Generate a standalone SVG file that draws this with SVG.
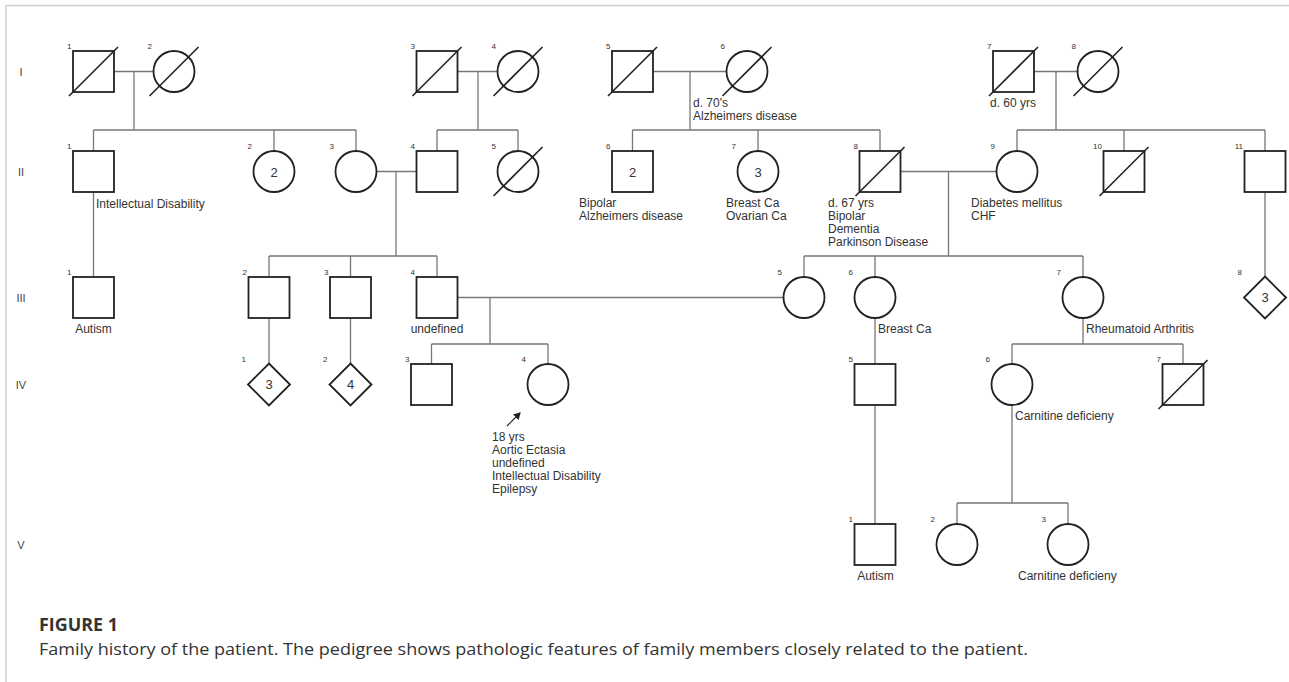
<svg xmlns="http://www.w3.org/2000/svg" width="1289" height="682" viewBox="0 0 1289 682">
<style>
.sym{fill:#fff;stroke:#222;stroke-width:1.8}
.dead{stroke:#222;stroke-width:1.6}
.con{stroke:#777;stroke-width:1.3;fill:none}
text{font-family:"Liberation Sans",Arial,sans-serif;fill:#333}
.lbl{font-size:12px}
.mid{text-anchor:middle}
.num{font-size:8px;text-anchor:end}
.inner{font-size:13px;text-anchor:middle}
.gen{font-size:11px;text-anchor:middle;fill:#444}
.cap{font-family:"Open Sans","Noto Sans",sans-serif}
</style>
<defs>
<marker id="ah" markerWidth="8" markerHeight="8" refX="6" refY="4" orient="auto" markerUnits="userSpaceOnUse">
<path d="M0,0 L7,4 L0,8 Z" fill="#222"/>
</marker>
</defs>
<rect width="1289" height="682" fill="#fff"/>
<path d="M6,682 V5.5 H1289" fill="none" stroke="#d0d0d0" stroke-width="1.5"/>

<g id="generations">
<text class="gen" x="21" y="76">I</text>
<text class="gen" x="21" y="176">II</text>
<text class="gen" x="21" y="302">III</text>
<text class="gen" x="21" y="389">IV</text>
<text class="gen" x="21" y="549">V</text>
</g>

<g id="connectors" class="con">
<path d="M114,71.5 H153.5 M458,71.5 H497.5 M653,71.5 H726.5 M1034,71.5 H1077.5"/>
<path d="M134,71.5 V130 M478,71.5 V130 M690,71.5 V130 M1056,71.5 V130"/>
<path d="M93.5,130 H356 M437,130 H518 M632.5,130 H880 M1017,130 H1265"/>
<path d="M93.5,130 V151 M274,130 V151 M356,130 V151 M437,130 V151 M518,130 V151 M632.5,130 V151 M758,130 V151 M880,130 V151 M1017,130 V151 M1124,130 V151 M1265,130 V151"/>
<path d="M376.5,171.5 H416.5 M900.5,171.5 H996.5"/>
<path d="M396,171.5 V256 M948.5,171.5 V256"/>
<path d="M93.5,192 V277 M1265,192 V276.5"/>
<path d="M269,256 H437 M804,256 H1083"/>
<path d="M269,256 V277 M350.5,256 V277 M437,256 V277 M804,256 V277 M875,256 V277 M1083,256 V277"/>
<path d="M457.5,297.5 H783.5 M490,297.5 V344 M431.5,344 H548 M431.5,344 V364 M548,344 V364"/>
<path d="M269,318 V363.5 M350.5,318 V363.5 M875,318 V364"/>
<path d="M1083,318 V344 M1012,344 H1183 M1012,344 V364 M1183,344 V364"/>
<path d="M875,405 V524 M1012,405 V503 M957,503 H1068 M957,503 V524 M1068,503 V524"/>
<line x1="507" y1="426" x2="520" y2="413" stroke="#222" stroke-width="1.2" marker-end="url(#ah)"/>
</g>

<!-- Generation I -->
<g id="I-1"><rect class="sym" x="73" y="51" width="41" height="41"/><line class="dead" x1="69" y1="96" x2="118" y2="47"/><text class="num" x="71.5" y="49">1</text></g>
<g id="I-2"><circle class="sym" cx="174" cy="71.5" r="20.5"/><line class="dead" x1="149.5" y1="96" x2="198.5" y2="47"/><text class="num" x="152" y="49">2</text></g>
<g id="I-3"><rect class="sym" x="416.5" y="51" width="41" height="41"/><line class="dead" x1="412.5" y1="96" x2="461.5" y2="47"/><text class="num" x="415" y="49">3</text></g>
<g id="I-4"><circle class="sym" cx="518" cy="71.5" r="20.5"/><line class="dead" x1="493.5" y1="96" x2="542.5" y2="47"/><text class="num" x="496" y="49">4</text></g>
<g id="I-5"><rect class="sym" x="612" y="51" width="41" height="41"/><line class="dead" x1="608" y1="96" x2="657" y2="47"/><text class="num" x="610.5" y="49">5</text></g>
<g id="I-6"><circle class="sym" cx="747" cy="71.5" r="20.5"/><line class="dead" x1="722.5" y1="96" x2="771.5" y2="47"/><text class="num" x="725" y="49">6</text>
<text class="lbl" x="693" y="107">d. 70's</text><text class="lbl" x="693" y="120">Alzheimers disease</text></g>
<g id="I-7"><rect class="sym" x="993" y="51" width="41" height="41"/><line class="dead" x1="989" y1="96" x2="1038" y2="47"/><text class="num" x="991.5" y="49">7</text>
<text class="lbl" x="990" y="107">d. 60 yrs</text></g>
<g id="I-8"><circle class="sym" cx="1098" cy="71.5" r="20.5"/><line class="dead" x1="1073.5" y1="96" x2="1122.5" y2="47"/><text class="num" x="1076" y="49">8</text></g>

<!-- Generation II -->
<g id="II-1"><rect class="sym" x="73" y="151" width="41" height="41"/><text class="num" x="71.5" y="149">1</text>
<text class="lbl" x="96" y="208">Intellectual Disability</text></g>
<g id="II-2"><circle class="sym" cx="274" cy="171.5" r="20.5"/><text class="inner" x="274" y="176.5">2</text><text class="num" x="252" y="149">2</text></g>
<g id="II-3"><circle class="sym" cx="356" cy="171.5" r="20.5"/><text class="num" x="334" y="149">3</text></g>
<g id="II-4"><rect class="sym" x="416.5" y="151" width="41" height="41"/><text class="num" x="415" y="149">4</text></g>
<g id="II-5"><circle class="sym" cx="518" cy="171.5" r="20.5"/><line class="dead" x1="493.5" y1="196" x2="542.5" y2="147"/><text class="num" x="496" y="149">5</text></g>
<g id="II-6"><rect class="sym" x="612" y="151" width="41" height="41"/><text class="inner" x="632.5" y="176.5">2</text><text class="num" x="610.5" y="149">6</text>
<text class="lbl" x="579" y="207">Bipolar</text><text class="lbl" x="579" y="220">Alzheimers disease</text></g>
<g id="II-7"><circle class="sym" cx="758" cy="171.5" r="20.5"/><text class="inner" x="758" y="176.5">3</text><text class="num" x="736" y="149">7</text>
<text class="lbl" x="726" y="207">Breast Ca</text><text class="lbl" x="726" y="220">Ovarian Ca</text></g>
<g id="II-8"><rect class="sym" x="859.5" y="151" width="41" height="41"/><line class="dead" x1="855.5" y1="196" x2="904.5" y2="147"/><text class="num" x="858" y="149">8</text>
<text class="lbl" x="828" y="207">d. 67 yrs</text><text class="lbl" x="828" y="220">Bipolar</text><text class="lbl" x="828" y="233">Dementia</text><text class="lbl" x="828" y="246">Parkinson Disease</text></g>
<g id="II-9"><circle class="sym" cx="1017" cy="171.5" r="20.5"/><text class="num" x="995" y="149">9</text>
<text class="lbl" x="971" y="207">Diabetes mellitus</text><text class="lbl" x="971" y="220">CHF</text></g>
<g id="II-10"><rect class="sym" x="1103.5" y="151" width="41" height="41"/><line class="dead" x1="1099.5" y1="196" x2="1148.5" y2="147"/><text class="num" x="1102" y="149">10</text></g>
<g id="II-11"><rect class="sym" x="1244.5" y="151" width="41" height="41"/><text class="num" x="1243" y="149">11</text></g>

<!-- Generation III -->
<g id="III-1"><rect class="sym" x="73" y="277" width="41" height="41"/><text class="num" x="71.5" y="275">1</text>
<text class="lbl mid" x="93.5" y="333">Autism</text></g>
<g id="III-2"><rect class="sym" x="248.5" y="277" width="41" height="41"/><text class="num" x="247" y="275">2</text></g>
<g id="III-3"><rect class="sym" x="330" y="277" width="41" height="41"/><text class="num" x="328.5" y="275">3</text></g>
<g id="III-4"><rect class="sym" x="416.5" y="277" width="41" height="41"/><text class="num" x="415" y="275">4</text>
<text class="lbl mid" x="437" y="333">undefined</text></g>
<g id="III-5"><circle class="sym" cx="804" cy="297.5" r="20.5"/><text class="num" x="782" y="275">5</text></g>
<g id="III-6"><circle class="sym" cx="875" cy="297.5" r="20.5"/><text class="num" x="853" y="275">6</text>
<text class="lbl" x="878" y="333">Breast Ca</text></g>
<g id="III-7"><circle class="sym" cx="1083" cy="297.5" r="20.5"/><text class="num" x="1061" y="275">7</text>
<text class="lbl" x="1086" y="333">Rheumatoid Arthritis</text></g>
<g id="III-8"><polygon class="sym" points="1265,276.5 1286,297.5 1265,318.5 1244,297.5"/><text class="inner" x="1265" y="302">3</text><text class="num" x="1242" y="275">8</text></g>

<!-- Generation IV -->
<g id="IV-1"><polygon class="sym" points="269,363.5 290,384.5 269,405.5 248,384.5"/><text class="inner" x="269" y="389">3</text><text class="num" x="246" y="362">1</text></g>
<g id="IV-2"><polygon class="sym" points="350.5,363.5 371.5,384.5 350.5,405.5 329.5,384.5"/><text class="inner" x="350.5" y="389">4</text><text class="num" x="327.5" y="362">2</text></g>
<g id="IV-3"><rect class="sym" x="411" y="364" width="41" height="41"/><text class="num" x="409.5" y="362">3</text></g>
<g id="IV-4"><circle class="sym" cx="548" cy="384.5" r="20.5"/><text class="num" x="526" y="362">4</text>
<text class="lbl" x="492" y="441">18 yrs</text><text class="lbl" x="492" y="454">Aortic Ectasia</text><text class="lbl" x="492" y="467">undefined</text><text class="lbl" x="492" y="480">Intellectual Disability</text><text class="lbl" x="492" y="493">Epilepsy</text></g>
<g id="IV-5"><rect class="sym" x="854.5" y="364" width="41" height="41"/><text class="num" x="853" y="362">5</text></g>
<g id="IV-6"><circle class="sym" cx="1012" cy="384.5" r="20.5"/><text class="num" x="990" y="362">6</text>
<text class="lbl" x="1015" y="420">Carnitine deficieny</text></g>
<g id="IV-7"><rect class="sym" x="1162.5" y="364" width="41" height="41"/><line class="dead" x1="1158.5" y1="409" x2="1207.5" y2="360"/><text class="num" x="1161" y="362">7</text></g>

<!-- Generation V -->
<g id="V-1"><rect class="sym" x="854.5" y="524" width="41" height="41"/><text class="num" x="853" y="522">1</text>
<text class="lbl mid" x="875.5" y="580">Autism</text></g>
<g id="V-2"><circle class="sym" cx="957" cy="544.5" r="20.5"/><text class="num" x="935" y="522">2</text></g>
<g id="V-3"><circle class="sym" cx="1068" cy="544.5" r="20.5"/><text class="num" x="1046" y="522">3</text>
<text class="lbl" x="1018" y="580">Carnitine deficieny</text></g>

<g id="caption">
<text class="cap" x="39" y="631" font-size="17" font-weight="700" fill="#666" textLength="79" lengthAdjust="spacingAndGlyphs">FIGURE 1</text>
<text class="cap" x="39" y="655" font-size="16" fill="#7a7a7a" textLength="989" lengthAdjust="spacingAndGlyphs">Family history of the patient. The pedigree shows pathologic features of family members closely related to the patient.</text>
</g>
</svg>
